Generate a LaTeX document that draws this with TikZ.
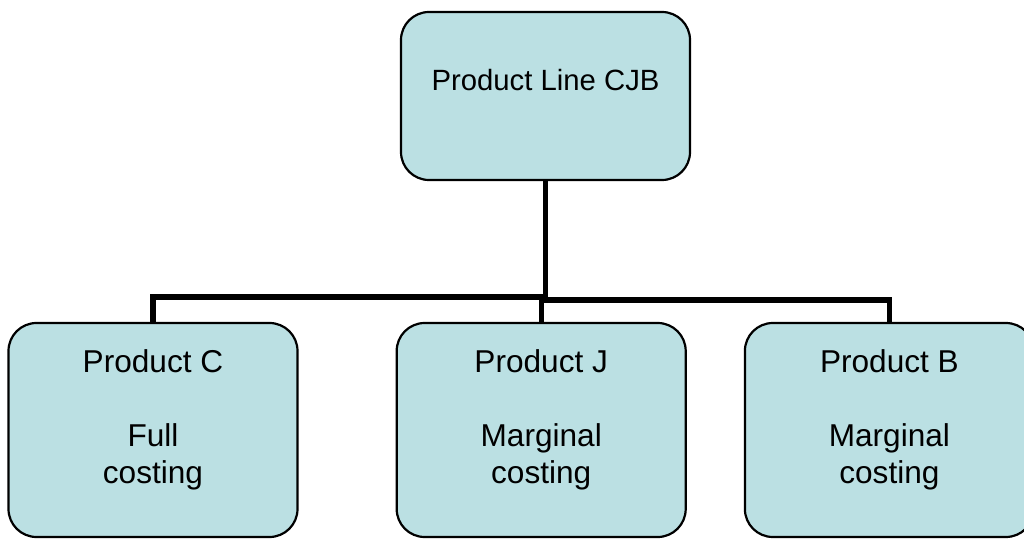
\documentclass[tikz,border=0pt]{standalone}
\usepackage{fontspec}
\setmainfont{Liberation Sans}
\usetikzlibrary{positioning}

\definecolor{boxfill}{RGB}{187,224,227}

% text block inside a box: height, first baseline, lines
\newcommand{\boxlines}[3]{\parbox[c][#1][t]{270pt}{\centering\rule{0pt}{#2}#3}}

\begin{document}
\begin{tikzpicture}[
                        x=1pt,
                        y=1pt,
                        line width=5.3pt
                    ]
                    \tikzstyle{box}=[draw=black,fill=boxfill,line width=2.2pt,rounded corners=28pt,
                                     inner sep=0pt,minimum width=289pt,text=black]
                    \tikzstyle{top}=[box,minimum height=168pt,font=\fontsize{29.3}{34}\selectfont]
                    \tikzstyle{product}=[box,minimum height=214pt,font=\fontsize{31.6}{37}\selectfont]

                    \useasboundingbox (0,0) rectangle (1024,538);

                    \node[top]     (CJB) at (545.5,442) {\boxlines{168pt}{79pt}{Product Line CJB}} ;
                    \node[product] (C)   at (153,108)   {\boxlines{214pt}{49pt}{Product C\\[37pt]Full\\costing}} ;
                    \node[product] (J)   [right=97pt of C] {\boxlines{214pt}{49pt}{Product J\\[37pt]Marginal\\costing}} ;
                    \node[product] (B)   [right=57pt of J] {\boxlines{214pt}{49pt}{Product B\\[37pt]Marginal\\costing}} ;

                    % elbow connectors
                    \draw (CJB.south) -- ++(0,-116) -| (C.north) ;
                    \draw (CJB.south) -- ++(0,-119) -| (J.north) ;
                    \draw (CJB.south) -- ++(0,-119) -| (B.north) ;
                \end{tikzpicture}
\end{document}
